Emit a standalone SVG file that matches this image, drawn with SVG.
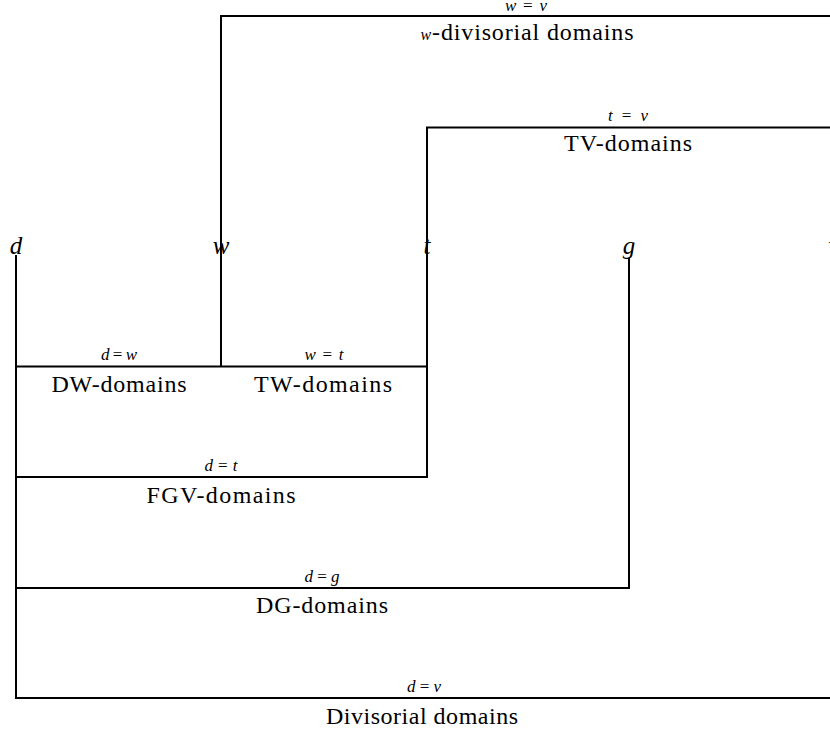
<svg xmlns="http://www.w3.org/2000/svg" width="830" height="733" viewBox="0 0 830 733">
<style>
.ln{fill:none;stroke:#000;stroke-width:2;stroke-linecap:butt;stroke-linejoin:miter}
.var{font-family:"Liberation Serif","DejaVu Serif",serif;font-style:italic;font-size:25px;text-anchor:middle;fill:#000}
.eq{font-family:"Liberation Serif","DejaVu Serif",serif;font-style:italic;font-size:17px;text-anchor:middle;fill:#000}
.eq tspan.r{font-style:normal}
.lab{font-family:"Liberation Serif","DejaVu Serif",serif;font-size:24px;text-anchor:middle;fill:#000}
.lab tspan.i{font-style:italic;font-size:16px}
</style>
<rect width="830" height="733" fill="#fff"/>
<g id="connectors">
<polyline class="ln" points="221,366.5 221,16 832,16"/>
<polyline class="ln" points="427,477 427,127.5 832,127.5"/>
<line class="ln" x1="16" y1="255" x2="16" y2="699"/>
<line class="ln" x1="629" y1="258" x2="629" y2="589"/>
<line class="ln" x1="15" y1="366.5" x2="428" y2="366.5"/>
<line class="ln" x1="15" y1="477" x2="428" y2="477"/>
<line class="ln" x1="15" y1="588" x2="630" y2="588"/>
<line class="ln" x1="15" y1="698" x2="832" y2="698"/>
</g>
<g id="node-d"><text class="var" x="16" y="254">d</text></g>
<g id="node-w"><text class="var" x="221" y="254">w</text></g>
<g id="node-t"><text class="var" x="427" y="254">t</text></g>
<g id="node-g"><text class="var" x="629" y="254">g</text></g>
<g id="node-v"><text class="var" x="834" y="254">v</text></g>
<g id="w-divisorial">
<text class="eq" x="526" y="11" textLength="42" lengthAdjust="spacing">w<tspan class="r">=</tspan>v</text>
<text class="lab" x="527" y="40" textLength="213" lengthAdjust="spacing"><tspan class="i">w</tspan>-divisorial domains</text>
</g>
<g id="tv">
<text class="eq" x="628" y="121" textLength="40" lengthAdjust="spacing">t<tspan class="r">=</tspan>v</text>
<text class="lab" x="628" y="151" textLength="128" lengthAdjust="spacing">TV-domains</text>
</g>
<g id="dw">
<text class="eq" x="119" y="360" textLength="36" lengthAdjust="spacing">d<tspan class="r">=</tspan>w</text>
<text class="lab" x="119" y="392" textLength="135" lengthAdjust="spacing">DW-domains</text>
</g>
<g id="tw">
<text class="eq" x="324" y="360" textLength="39" lengthAdjust="spacing">w<tspan class="r">=</tspan>t</text>
<text class="lab" x="323" y="392" textLength="138" lengthAdjust="spacing">TW-domains</text>
</g>
<g id="fgv">
<text class="eq" x="221" y="471" textLength="33" lengthAdjust="spacing">d<tspan class="r">=</tspan>t</text>
<text class="lab" x="221" y="503" textLength="149" lengthAdjust="spacing">FGV-domains</text>
</g>
<g id="dg">
<text class="eq" x="322" y="582" textLength="35" lengthAdjust="spacing">d<tspan class="r">=</tspan>g</text>
<text class="lab" x="322" y="613" textLength="132" lengthAdjust="spacing">DG-domains</text>
</g>
<g id="divisorial">
<text class="eq" x="424" y="692" textLength="34" lengthAdjust="spacing">d<tspan class="r">=</tspan>v</text>
<text class="lab" x="422" y="724" textLength="192" lengthAdjust="spacing">Divisorial domains</text>
</g>
</svg>
